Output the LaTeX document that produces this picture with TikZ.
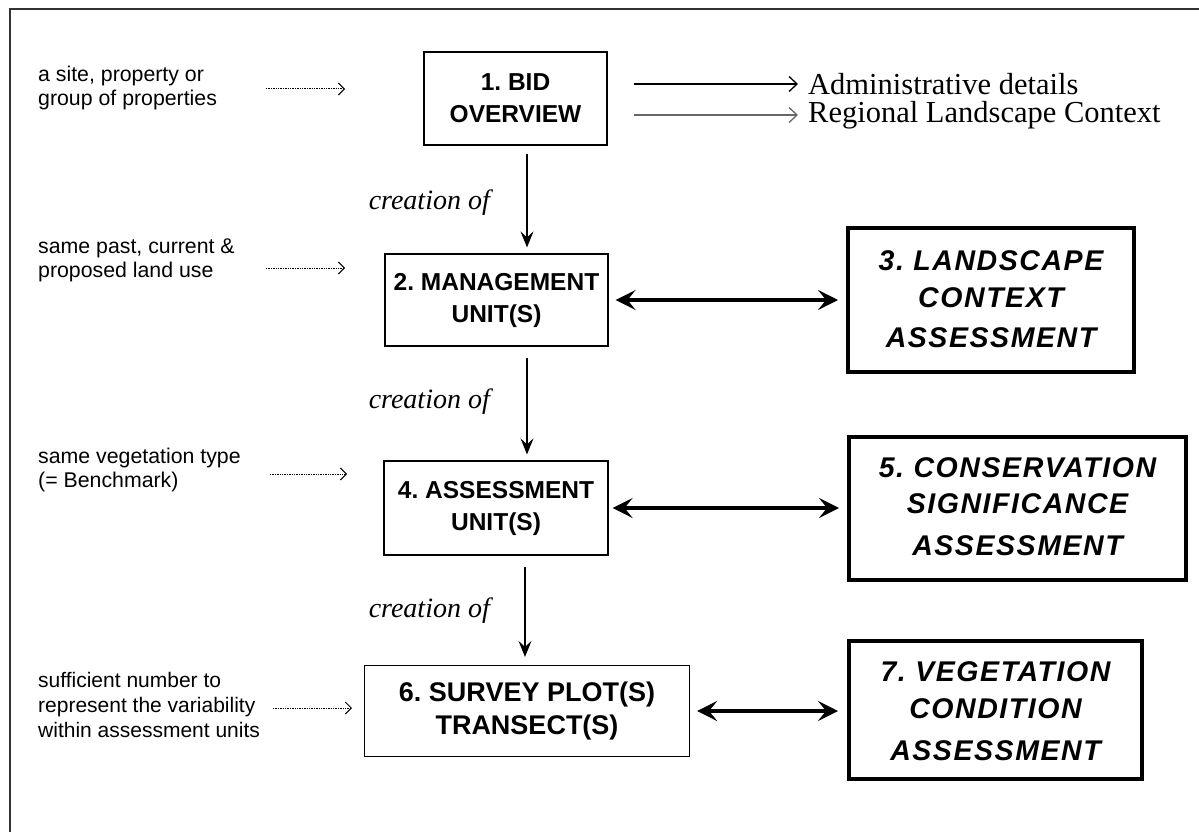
\documentclass[tikz,border=0pt]{standalone}
\usepackage{fontspec}
\setmainfont{Liberation Serif}
\setsansfont{Liberation Sans}
\usetikzlibrary{arrows.meta}
\frenchspacing

\tikzset{
  unitbox/.style={draw, line width=1.2pt, inner sep=0pt, align=center,
    font=\sffamily\bfseries\fontsize{24.5}{32}\selectfont},
  assessframe/.style={draw, line width=4pt, inner sep=0pt},
  assesstext/.style={inner sep=0pt, align=center,
    font=\sffamily\bfseries\itshape\fontsize{28.5}{37}\selectfont\addfontfeature{LetterSpace=5.5}},
  note/.style={anchor=west, align=left, inner sep=0pt,
    font=\sffamily\fontsize{21.3}{24}\selectfont},
  creation/.style={anchor=east, inner sep=0pt,
    font=\itshape\fontsize{28}{30}\selectfont},
  outcome/.style={anchor=west, inner sep=0pt,
    font=\fontsize{30.5}{32}\selectfont},
  flow/.style={line width=1.2pt, -{Stealth[length=16pt,width=13pt,inset=6pt]}},
  link/.style={line width=3.5pt, {Stealth[length=20pt,width=20pt,inset=8pt]}-{Stealth[length=20pt,width=20pt,inset=8pt]}},
  detail/.style={line width=1.3pt, -{Straight Barb[length=8pt,width=15pt,line width=1.3pt]}},
  hint/.style={line width=1pt, dash pattern=on 1.3pt off 1.1pt,
    -{Straight Barb[length=6pt,width=12pt,line width=1pt,sep=0pt]}}
}

\begin{document}
\begin{tikzpicture}[x=1pt,y=-1pt]
\useasboundingbox (0,0) rectangle (1199,832);

% frame
\draw[black!80, line width=2pt] (10,832) -- (10,9) -- (1199,9);

% main chain of units
\node[unitbox, minimum width=183pt, minimum height=93pt] (b1) at (515.5,98.5) {1. BID\\OVERVIEW};
\node[unitbox, minimum width=223pt, minimum height=92pt] (b2) at (496.5,300) {2. MANAGEMENT\\UNIT(S)};
\node[unitbox, minimum width=224pt, minimum height=94pt] (b4) at (496,508) {4. ASSESSMENT\\UNIT(S)};
\node[unitbox, minimum width=325pt, minimum height=91pt, font=\sffamily\bfseries\fontsize{27}{33}\selectfont] (b6) at (527,711) {6. SURVEY PLOT(S)\\TRANSECT(S)};

% assessments
\node[assessframe, minimum width=286pt, minimum height=144pt] (b3) at (991,300) {};
\node[assessframe, minimum width=337pt, minimum height=143pt] (b5) at (1017.5,508.5) {};
\node[assessframe, minimum width=293pt, minimum height=138pt] (b7) at (995.5,710) {};
\node[assesstext] (t3) at ([yshift=1pt]b3.center) {3. LANDSCAPE\\CONTEXT\\[3pt]ASSESSMENT};
\node[assesstext, font=\sffamily\bfseries\itshape\fontsize{28.5}{36}\selectfont\addfontfeature{LetterSpace=5.5}] (t5) at ([yshift=2pt]b5.center) {5. CONSERVATION\\SIGNIFICANCE\\[6pt]ASSESSMENT};
\node[assesstext, font=\sffamily\bfseries\itshape\fontsize{28.5}{37}\selectfont\addfontfeature{LetterSpace=5.5}] (t7) at ([yshift=-1pt]b7.center) {7. VEGETATION\\CONDITION\\[5pt]ASSESSMENT};

% outcomes of the bid overview
\node[outcome] (admin) at (808,84) {Administrative details};
\node[outcome] (region) at (808,115) {Regional Landscape Context};
\draw[detail, shorten <=26pt, shorten >=10pt] (b1.east |- admin.west) -- (admin.west);
\draw[detail, black!60, shorten <=26pt, shorten >=10pt] (b1.east |- region.west) -- (region.west);

% creation arrows
\coordinate (fx1) at (527,0);
\coordinate (fx2) at (525,0);
\draw[flow, shorten <=8pt, shorten >=6pt] (b1.south -| fx1) -- (b2.north -| fx1);
\draw[flow, shorten <=11pt, shorten >=6pt] (b2.south -| fx1) -- (b4.north -| fx1);
\draw[flow, shorten <=11pt, shorten >=8pt] (b4.south -| fx2) -- (b6.north -| fx2);
\node[creation] (c1) at (490,203) {creation of};
\node[creation] (c2) at (490,402) {creation of};
\node[creation] (c3) at (490,611) {creation of};

% links to the assessments
\draw[link, shorten <=7pt, shorten >=8pt] (b2.east) -- (b2.east -| b3.west);
\draw[link, shorten <=4pt, shorten >=8pt] (b4.east) -- (b4.east -| b5.west);
\draw[link, shorten <=7pt, shorten >=9pt] (b6.east) -- (b6.east -| b7.west);

% notes on the left
\node[note] (n1) at (38,88) {a site, property or\\group of properties};
\node[note] (n2) at (38,260) {same past, current \&\\proposed land use};
\node[note] (n3) at (38,470) {same vegetation type\\(= Benchmark)};
\node[note, font=\sffamily\fontsize{21}{25}\selectfont] (n4) at (38,705) {sufficient number to\\represent the variability\\within assessment units};

\coordinate (h1a) at (266,89);  \coordinate (h1b) at (345,89);
\coordinate (h2a) at (266,268); \coordinate (h2b) at (345,268);
\coordinate (h3a) at (270,474); \coordinate (h3b) at (347,474);
\coordinate (h4a) at (273,708); \coordinate (h4b) at (352,708);
\draw[hint] (h1a) -- (h1b);
\draw[hint] (h2a) -- (h2b);
\draw[hint] (h3a) -- (h3b);
\draw[hint] (h4a) -- (h4b);
\end{tikzpicture}
\end{document}
